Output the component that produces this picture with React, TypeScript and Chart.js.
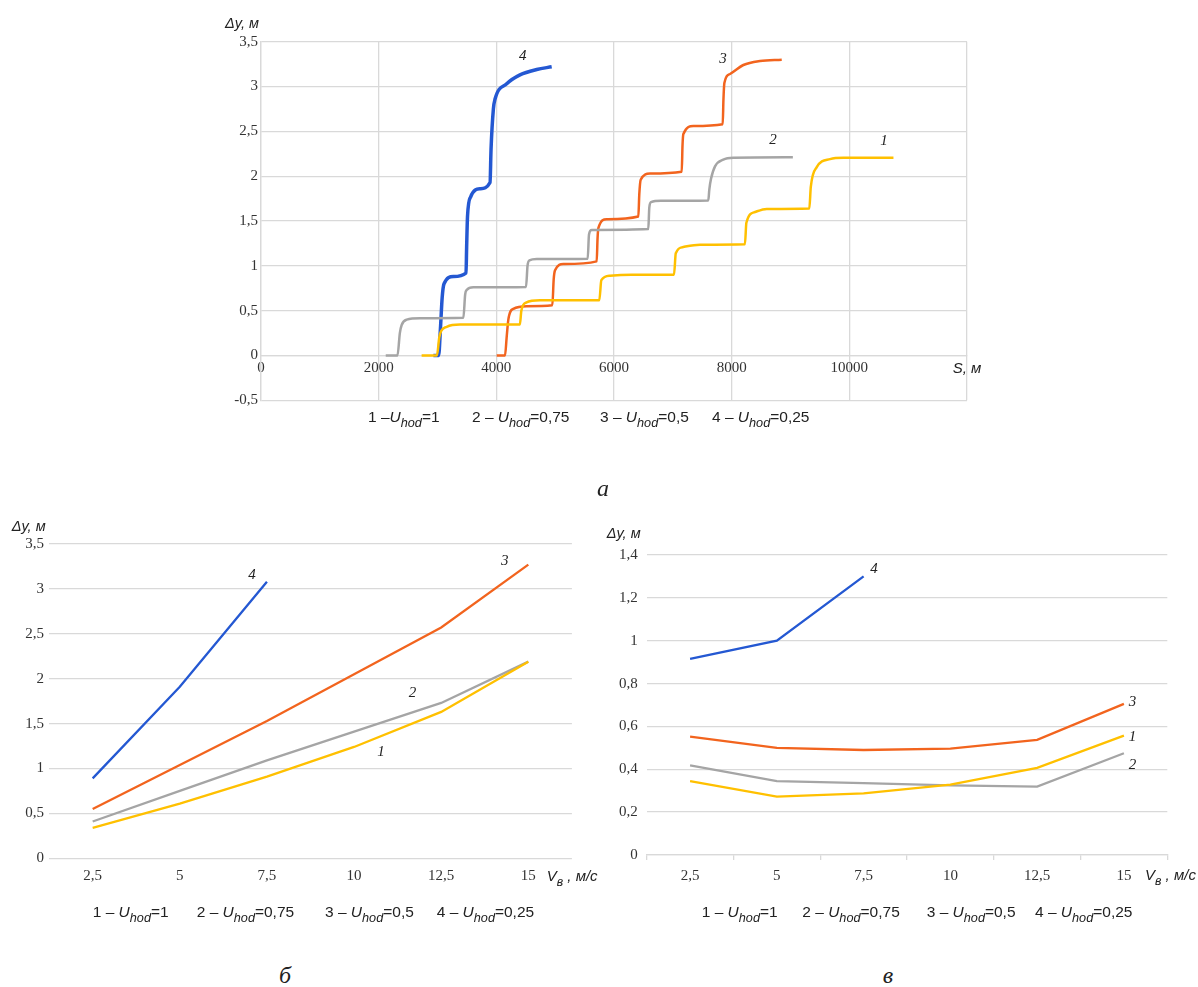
import React, { useEffect, useRef } from 'react';
import { Chart, registerables } from 'chart.js';
Chart.register(...registerables);

// ---------- Chart а: Δy versus S (step curves) ----------
const sU1 = [2730, 2990, 3030, 3060, 3156, 3383, 4400, 4425, 4505, 4743, 5750, 5785, 5932, 6300, 7020, 7050, 7178, 7462, 8225, 8250, 8397, 8596, 9320, 9345, 9446, 9672, 9898, 10750];
const dyU1 = [0, 0, 0.2, 0.27, 0.32, 0.345, 0.345, 0.5, 0.59, 0.615, 0.615, 0.84, 0.89, 0.9, 0.9, 1.14, 1.21, 1.235, 1.24, 1.48, 1.6, 1.635, 1.64, 1.88, 2.1, 2.19, 2.205, 2.205];

const sU2 = [2120, 2320, 2360, 2391, 2476, 2700, 3440, 3470, 3496, 3609, 4505, 4530, 4561, 4686, 5553, 5575, 5620, 6583, 6600, 6629, 6800, 7603, 7620, 7649, 7717, 7858, 8028, 9040];
const dyU2 = [0, 0, 0.25, 0.34, 0.4, 0.415, 0.42, 0.68, 0.73, 0.76, 0.765, 1.0, 1.06, 1.075, 1.08, 1.35, 1.4, 1.41, 1.65, 1.71, 1.725, 1.73, 1.85, 1.97, 2.11, 2.185, 2.205, 2.21];

const sU3 = [4006, 4148, 4175, 4204, 4289, 4516, 4952, 4975, 4998, 5140, 5706, 5720, 5734, 5876, 6414, 6430, 6454, 6612, 7151, 7165, 7179, 7349, 7848, 7860, 7876, 7972, 8199, 8482, 8851];
const dyU3 = [0, 0, 0.2, 0.4, 0.52, 0.55, 0.56, 0.85, 0.95, 1.02, 1.05, 1.3, 1.42, 1.52, 1.55, 1.8, 1.96, 2.03, 2.05, 2.35, 2.47, 2.56, 2.58, 2.85, 3.04, 3.14, 3.24, 3.285, 3.3];

const sU4 = [2930, 3020, 3050, 3080, 3111, 3269, 3485, 3495, 3510, 3564, 3723, 3893, 3910, 3950, 3978, 4176, 4402, 4686, 4941];
const dyU4 = [0, 0, 0.3, 0.65, 0.8, 0.88, 0.92, 1.2, 1.55, 1.77, 1.86, 1.93, 2.3, 2.75, 2.86, 3.03, 3.13, 3.19, 3.22];

const sMin = 0, sMax = 12000, sStep = 2000;
const dyMinA = -0.5, dyMaxA = 3.5, dyStepA = 0.5;
// curve number labels (data coordinates)
const labelA_S = [10590, 8703, 7853, 4448];
const labelA_dy = [2.39, 2.40, 3.31, 3.34];

// ---------- Chart б: Δy versus wind speed ----------
const windLabels = ['2,5', '5', '7,5', '10', '12,5', '15'];
const bU1 = [0.34, 0.61, 0.91, 1.24, 1.63, 2.19];
const bU2 = [0.41, 0.75, 1.09, 1.41, 1.73, 2.19];
const bU3 = [0.55, 1.04, 1.53, 2.05, 2.57, 3.27];
const bU4 = [0.89, 1.91, 3.08];
const dyMaxB = 3.5, dyStepB = 0.5;
const labelB_idx = [3.31, 3.67, 4.73, 1.83];
const labelB_dy = [1.18, 1.84, 3.31, 3.15];

// ---------- Chart в ----------
const cU1 = [0.345, 0.272, 0.288, 0.328, 0.407, 0.557];
const cU2 = [0.418, 0.345, 0.335, 0.325, 0.319, 0.475];
const cU3 = [0.552, 0.5, 0.49, 0.496, 0.537, 0.705];
const cU4 = [0.915, 1.0, 1.3];
const dyMaxC = 1.4, dyStepC = 0.2;
const labelC_idx = [5.1, 5.1, 5.1, 2.12];
const labelC_dy = [0.552, 0.42, 0.715, 1.333];

// ---------- legend ----------
const legendNums = ['1', '2', '3', '4'];
const legendU = ['1', '0,75', '0,5', '0,25'];

// ---------- styles ----------
const COLORS = ['#FFC000', '#A5A5A5', '#F2641E', '#2458D2'];
const SERIF = "'Liberation Serif', 'Times New Roman', serif";
const SANS = "'Liberation Sans', Arial, sans-serif";
const GRID = '#d9d9d9';
const TICK = '#333333';

const fmt = (v: any) => String(parseFloat(Number(v).toFixed(2))).replace('.', ',');

type Part = { t: string; i?: boolean; sub?: boolean };

function drawRich(ctx: CanvasRenderingContext2D, x: number, y: number, parts: Part[], size: number) {
  let cx = x;
  ctx.textAlign = 'left';
  ctx.textBaseline = 'alphabetic';
  for (const p of parts) {
    const fs = p.sub ? size * 0.82 : size;
    ctx.font = `${p.i ? 'italic ' : ''}${fs}px ${SANS}`;
    ctx.fillText(p.t, cx, p.sub ? y + size * 0.32 : y);
    cx += ctx.measureText(p.t).width;
  }
}
function richWidth(ctx: CanvasRenderingContext2D, parts: Part[], size: number) {
  let w = 0;
  for (const p of parts) {
    const fs = p.sub ? size * 0.82 : size;
    ctx.font = `${p.i ? 'italic ' : ''}${fs}px ${SANS}`;
    w += ctx.measureText(p.t).width;
  }
  return w;
}

function legendParts(k: number, tight: boolean): Part[] {
  return [
    { t: legendNums[k] + (tight && k === 0 ? ' –' : ' – ') },
    { t: 'U', i: true },
    { t: 'hod', i: true, sub: true },
    { t: '=' + legendU[k] },
  ];
}

function drawLegend(ctx: CanvasRenderingContext2D, xs: number[], baseline: number, tight: boolean) {
  ctx.fillStyle = '#222';
  xs.forEach((x, k) => drawRich(ctx, x, baseline, legendParts(k, tight), 15.5));
}

function drawCurveLabels(chart: any, xs: number[], ys: number[]) {
  const ctx = chart.ctx;
  ctx.font = `italic 15px ${SERIF}`;
  ctx.fillStyle = '#222';
  ctx.textAlign = 'center';
  ctx.textBaseline = 'middle';
  xs.forEach((xv, k) => {
    ctx.fillText(legendNums[k], chart.scales.x.getPixelForValue(xv), chart.scales.y.getPixelForValue(ys[k]));
  });
}

function overlay(id: string, draw: (chart: any, ctx: CanvasRenderingContext2D) => void) {
  return {
    id,
    afterDraw(chart: any) {
      const ctx = chart.ctx;
      ctx.save();
      draw(chart, ctx);
      ctx.restore();
    },
  };
}

const tickFont = { family: SERIF, size: 15 };

// ---------- chart а ----------
function makeA(): any {
  const OX = 200, OY = 0;
  const xy = (s: number[], d: number[]) => s.map((v, i) => ({ x: v, y: d[i] }));
  const series = [xy(sU1, dyU1), xy(sU2, dyU2), xy(sU3, dyU3), xy(sU4, dyU4)];
  return {
    type: 'scatter',
    data: {
      datasets: series.map((d, k) => ({
        data: d,
        showLine: true,
        borderColor: COLORS[k],
        backgroundColor: COLORS[k],
        borderWidth: k === 3 ? 3.5 : 2.5,
        pointRadius: 0,
        cubicInterpolationMode: 'monotone',
      })),
    },
    options: {
      animation: false,
      responsive: false,
      events: [],
      layout: { padding: { left: 0, right: 53, top: 41.7, bottom: 39.7 } },
      plugins: { legend: { display: false }, tooltip: { enabled: false } },
      scales: {
        x: {
          type: 'linear',
          min: sMin,
          max: sMax,
          position: { y: 0 },
          afterFit: (s: any) => { s.height = 0; },
          ticks: {
            stepSize: sStep,
            autoSkip: false,
            maxRotation: 0,
            padding: 4,
            font: tickFont,
            color: TICK,
            callback: (v: any) => (v === sMax ? '' : String(v)),
          },
          grid: { color: GRID, lineWidth: 1.3, drawTicks: false },
          border: { color: GRID, width: 1.3 },
        },
        y: {
          min: dyMinA,
          max: dyMaxA,
          afterFit: (s: any) => { s.width = 61; },
          ticks: { stepSize: dyStepA, padding: 3, font: tickFont, color: TICK, callback: fmt },
          grid: { color: GRID, lineWidth: 1.3, drawTicks: false },
          border: { color: GRID, width: 1.3 },
        },
      },
    },
    plugins: [
      overlay('annA', (chart, ctx) => {
        drawCurveLabels(chart, labelA_S, labelA_dy);
        ctx.fillStyle = '#222';
        drawRich(ctx, 225 - OX, 28 - OY, [{ t: 'Δy, м', i: true }], 14.5);
        const sp: Part[] = [{ t: 'S, м', i: true }];
        const w = richWidth(ctx, sp, 15);
        drawRich(ctx, chart.scales.x.getPixelForValue(sMax) - w / 2, 373 - OY, sp, 15);
        drawLegend(ctx, [368 - OX, 472 - OX, 600 - OX, 712 - OX], 422 - OY, true);
      }),
    ],
  };
}

// ---------- charts б and в ----------
function makeWind(opts: {
  OX: number; OY: number; yWidth: number; pad: any; max: number; step: number;
  series: number[][]; labIdx: number[]; labDy: number[]; tickPad: number; xTicks: boolean; yPad: number;
  dyTitle: [number, number]; vTitle: [number, number]; legendX: number[]; legendY: number;
}): any {
  const { OX, OY } = opts;
  return {
    type: 'line',
    data: {
      labels: windLabels,
      datasets: opts.series.map((d, k) => ({
        data: d,
        borderColor: COLORS[k],
        backgroundColor: COLORS[k],
        borderWidth: 2.3,
        pointRadius: 0,
        tension: 0,
      })),
    },
    options: {
      animation: false,
      responsive: false,
      events: [],
      layout: { padding: opts.pad },
      plugins: { legend: { display: false }, tooltip: { enabled: false } },
      scales: {
        x: {
          type: 'category',
          offset: true,
          afterFit: (s: any) => { s.height = 30; },
          ticks: { padding: opts.tickPad, font: tickFont, color: TICK, maxRotation: 0, autoSkip: false },
          grid: opts.xTicks
            ? { display: true, drawOnChartArea: false, drawTicks: true, tickLength: 5, color: GRID, offset: true, lineWidth: 1.3 }
            : { display: false, drawTicks: false },
          border: opts.xTicks ? { display: true, color: GRID, width: 1.3 } : { display: false },
        },
        y: {
          min: 0,
          max: opts.max,
          afterFit: (s: any) => { s.width = opts.yWidth; },
          ticks: { stepSize: opts.step, padding: opts.yPad, font: tickFont, color: TICK, callback: fmt },
          grid: { color: GRID, lineWidth: 1.3, drawTicks: false },
          border: { display: false },
        },
      },
    },
    plugins: [
      overlay('annW' + OX, (chart, ctx) => {
        drawCurveLabels(chart, opts.labIdx, opts.labDy);
        ctx.fillStyle = '#222';
        drawRich(ctx, opts.dyTitle[0] - OX, opts.dyTitle[1] + 5 - OY, [{ t: 'Δy, м', i: true }], 14.5);
        drawRich(ctx, opts.vTitle[0] - OX, opts.vTitle[1] + 5 - OY, [
          { t: 'V', i: true },
          { t: 'в', i: true, sub: true },
          { t: ' , м/с', i: true },
        ], 15);
        drawLegend(ctx, opts.legendX.map((x) => x - OX), opts.legendY - OY, false);
      }),
    ],
  };
}

const makeB = () =>
  makeWind({
    OX: 0, OY: 500, yWidth: 49.1, pad: { left: 0, right: 38.1, top: 44, bottom: 41.7 },
    max: dyMaxB, step: dyStepB, series: [bU1, bU2, bU3, bU4], labIdx: labelB_idx, labDy: labelB_dy,
    tickPad: 8.4, xTicks: false, yPad: 5, dyTitle: [11.7, 526], vTitle: [546.7, 875.7],
    legendX: [92.7, 196.7, 325, 436.7], legendY: 916.7,
  });

const makeC = () =>
  makeWind({
    OX: 600, OY: 500, yWidth: 46.7, pad: { left: 0, right: 30.7, top: 55, bottom: 45 },
    max: dyMaxC, step: dyStepC, series: [cU1, cU2, cU3, cU4], labIdx: labelC_idx, labDy: labelC_dy,
    tickPad: 6.7, xTicks: true, yPad: 9, dyTitle: [606.7, 532.7], vTitle: [1145, 875],
    legendX: [701.7, 802.3, 926.7, 1035], legendY: 916.7,
  });

function ChartCanvas(props: { left: number; top: number; width: number; height: number; make: () => any }) {
  const ref = useRef<HTMLCanvasElement>(null);
  useEffect(() => {
    const chart = new Chart(ref.current as HTMLCanvasElement, props.make());
    return () => chart.destroy();
  }, []);
  return (
    <canvas
      ref={ref}
      width={props.width}
      height={props.height}
      style={{ position: 'absolute', left: props.left, top: props.top, width: props.width, height: props.height }}
    />
  );
}

function Caption(props: { x: number; y: number; text: string }) {
  return (
    <span
      style={{
        position: 'absolute', left: props.x, top: props.y, transform: 'translate(-50%, -50%)',
        fontFamily: SERIF, fontStyle: 'italic', fontSize: 24, lineHeight: 1, color: '#222',
      }}
    >
      {props.text}
    </span>
  );
}

export default function App() {
  return (
    <div style={{ position: 'absolute', left: 0, top: 0, width: 1198, height: 987, background: '#fff', overflow: 'hidden' }}>
      <ChartCanvas left={200} top={0} width={820} height={440} make={makeA} />
      <ChartCanvas left={600} top={500} width={598} height={430} make={makeC} />
      <ChartCanvas left={0} top={500} width={610} height={430} make={makeB} />
      <Caption x={603} y={488} text="а" />
      <Caption x={285} y={975} text="б" />
      <Caption x={888} y={975} text="в" />
    </div>
  );
}
